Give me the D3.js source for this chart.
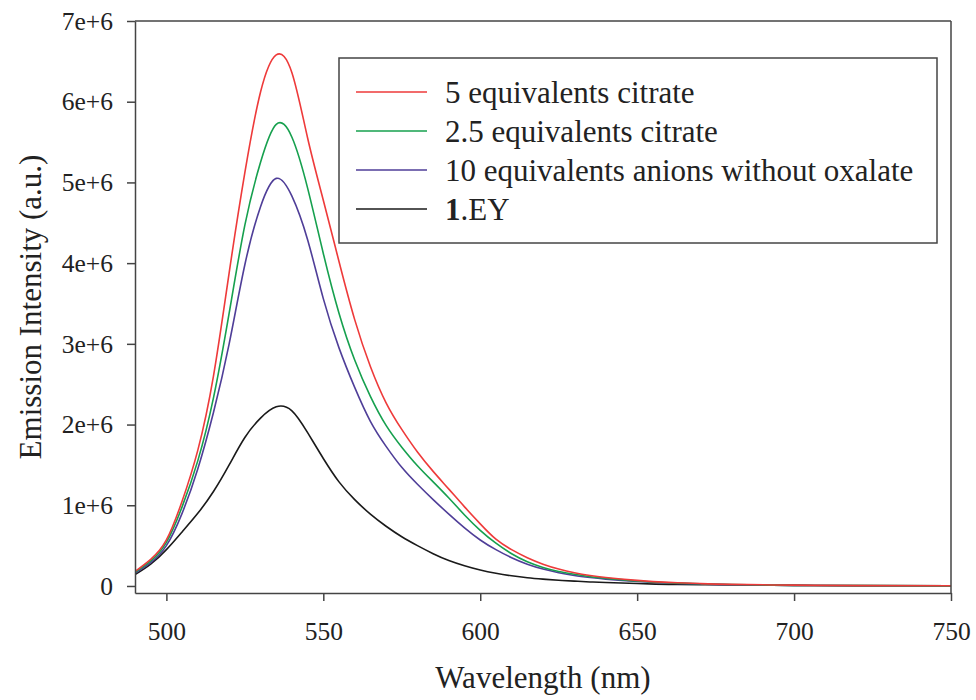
<!DOCTYPE html>
<html>
<head>
<meta charset="utf-8">
<script src="https://cdn.jsdelivr.net/npm/d3@7"></script>
<style>
  body { margin: 0; background: #fff; }
  text { font-family: "Liberation Serif", "Times New Roman", serif; fill: #222; }
  .axis path, .axis line { stroke: #444; stroke-width: 1.5px; }
  .axis text { font-size: 25.5px; fill: #222; font-family: "Liberation Serif", "Times New Roman", serif; }
</style>
</head>
<body>
<div id="chart"></div>
<script>
// wavelength grid (nm) and intensities (units of 1e6)
var wavelengths = [490, 495, 500, 505, 510, 515, 520, 525, 530, 535, 540, 545, 550, 555, 560, 565, 570, 575, 580, 585, 590, 595, 600, 605, 610, 615, 620, 625, 630, 635, 640, 650, 660, 670, 680, 700, 720, 750];
var citrate5 = [0.18, 0.33, 0.57, 1.05, 1.68, 2.6, 3.88, 5.12, 6.12, 6.58, 6.36, 5.55, 4.78, 4.02, 3.3, 2.72, 2.27, 1.94, 1.66, 1.42, 1.2, 0.98, 0.77, 0.58, 0.45, 0.35, 0.27, 0.21, 0.165, 0.13, 0.105, 0.07, 0.045, 0.03, 0.02, 0.01, 0.005, 0.002];
var citrate25 = [0.17, 0.31, 0.54, 0.98, 1.55, 2.33, 3.38, 4.47, 5.25, 5.72, 5.56, 4.93, 4.12, 3.38, 2.8, 2.35, 1.99, 1.72, 1.49, 1.29, 1.09, 0.88, 0.69, 0.53, 0.4, 0.3, 0.23, 0.18, 0.145, 0.115, 0.095, 0.062, 0.04, 0.027, 0.018, 0.008, 0.004, 0.001];
var anions10 = [0.16, 0.29, 0.5, 0.9, 1.45, 2.15, 3.0, 3.98, 4.7, 5.05, 4.83, 4.29, 3.56, 2.95, 2.46, 2.04, 1.73, 1.47, 1.26, 1.07, 0.89, 0.72, 0.57, 0.45, 0.35, 0.27, 0.21, 0.165, 0.13, 0.105, 0.085, 0.055, 0.036, 0.025, 0.016, 0.007, 0.003, 0.001];
var ey = [0.14, 0.27, 0.45, 0.67, 0.9, 1.17, 1.5, 1.84, 2.08, 2.22, 2.17, 1.9, 1.58, 1.29, 1.07, 0.89, 0.74, 0.61, 0.5, 0.4, 0.315, 0.25, 0.197, 0.157, 0.126, 0.102, 0.085, 0.071, 0.06, 0.05, 0.043, 0.03, 0.02, 0.015, 0.012, 0.007, 0.004, 0.002];

var seriesNames = ["5 equivalents citrate", "2.5 equivalents citrate", "10 equivalents anions without oxalate", "1.EY"];
var seriesColors = ["#ee3a3a", "#16a04e", "#4f3e98", "#1a1a1a"];
var seriesValues = [citrate5, citrate25, anions10, ey];

var xTicks = [500, 550, 600, 650, 700, 750];
var yTicks = [0, 1, 2, 3, 4, 5, 6, 7];

var margin = { top: 21, left: 135, right: 25, bottom: 107 },
    width = 976 - margin.left - margin.right,
    height = 700 - margin.top - margin.bottom;

var svg = d3.select("#chart")
  .append("svg")
  .attr("width", 976)
  .attr("height", 700)
  .append("g")
  .attr("transform", "translate(" + margin.left + "," + margin.top + ")");

var xPositionScale = d3.scaleLinear().domain([490, 750]).range([0, width]);
var yPositionScale = d3.scaleLinear().domain([-0.087, 7]).range([height, 0]);

svg.append("clipPath").attr("id", "plot-clip")
  .append("rect").attr("width", width).attr("height", height);

var line = d3.line()
  .x(function (d) { return xPositionScale(d.nm); })
  .y(function (d) { return yPositionScale(d.v); })
  .curve(d3.curveNatural);

var series = seriesNames.map(function (name, i) {
  return {
    name: name,
    color: seriesColors[i],
    points: wavelengths.map(function (nm, j) { return { nm: nm, v: seriesValues[i][j] }; })
  };
});

// draw black first so coloured lines sit on top
svg.append("g").attr("clip-path", "url(#plot-clip)")
  .selectAll(".spectrum")
  .data(series.slice().reverse())
  .enter()
  .append("path")
  .attr("class", "spectrum")
  .attr("d", function (d) { return line(d.points); })
  .attr("fill", "none")
  .attr("stroke", function (d) { return d.color; })
  .attr("stroke-width", 1.6);

// frame: top and right
svg.append("line").attr("x1", 0).attr("x2", width).attr("y1", 0).attr("y2", 0)
  .attr("stroke", "#444").attr("stroke-width", 1.5);
svg.append("line").attr("x1", width).attr("x2", width).attr("y1", 0).attr("y2", height)
  .attr("stroke", "#444").attr("stroke-width", 1.5);

var xAxis = d3.axisBottom(xPositionScale).tickValues(xTicks).tickSize(8).tickPadding(21).tickSizeOuter(0);
svg.append("g")
  .attr("class", "axis x-axis")
  .attr("transform", "translate(0," + height + ")")
  .call(xAxis);

var yAxis = d3.axisLeft(yPositionScale).tickValues(yTicks).tickSize(8).tickPadding(14).tickSizeOuter(0)
  .tickFormat(function (d) { return d === 0 ? "0" : d + "e+6"; });
svg.append("g")
  .attr("class", "axis y-axis")
  .call(yAxis);

// axis titles
svg.append("text")
  .attr("x", width / 2)
  .attr("y", 667)
  .attr("text-anchor", "middle")
  .attr("font-size", "31px")
  .text("Wavelength (nm)");

svg.append("text")
  .attr("transform", "translate(-94," + (height / 2) + ") rotate(-90)")
  .attr("text-anchor", "middle")
  .attr("font-size", "31px")
  .text("Emission Intensity (a.u.)");

// legend
var legend = svg.append("g").attr("transform", "translate(" + (339 - margin.left) + "," + (58 - margin.top) + ")");
legend.append("rect")
  .attr("width", 598).attr("height", 185)
  .attr("fill", "#fff").attr("stroke", "#444").attr("stroke-width", 1.5);

var rows = legend.selectAll(".legend-row")
  .data(series)
  .enter()
  .append("g")
  .attr("class", "legend-row")
  .attr("transform", function (d, i) { return "translate(0," + (34 + i * 39) + ")"; });

rows.append("line")
  .attr("x1", 17).attr("x2", 88)
  .attr("stroke", function (d) { return d.color; })
  .attr("stroke-width", 1.6);

rows.append("text")
  .attr("x", 106)
  .attr("y", 11)
  .attr("font-size", "31px")
  .each(function (d) {
    var t = d3.select(this);
    if (d.name === "1.EY") {
      t.append("tspan").attr("font-weight", "bold").text("1");
      t.append("tspan").text(".EY");
    } else {
      t.text(d.name);
    }
  });
</script>
</body>
</html>
